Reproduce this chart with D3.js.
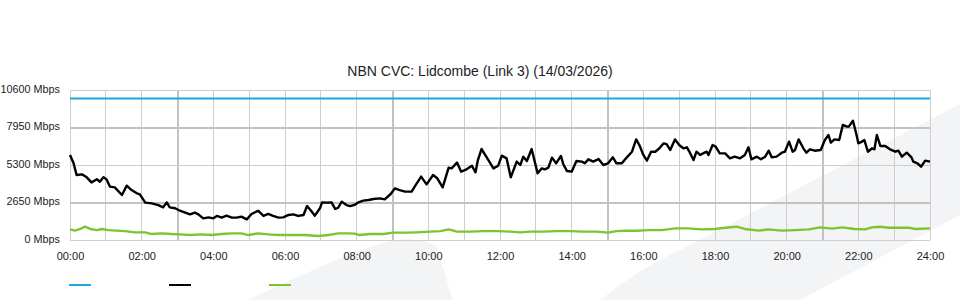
<!DOCTYPE html>
<html>
<head>
<meta charset="utf-8">
<script src="https://cdn.jsdelivr.net/npm/d3@7/dist/d3.min.js"></script>
<style>
  html, body { margin: 0; padding: 0; background: #ffffff; }
  svg { display: block; }
  text { font-family: "Liberation Sans", Arial, sans-serif; fill: #222; }
</style>
</head>
<body>
<svg id="chart" width="960" height="300"></svg>
<script>
// ---- data ----
const title = "NBN CVC: Lidcombe (Link 3) (14/03/2026)";
const yTicks = [0, 2650, 5300, 7950, 10600];
const yTickLabels = ["0 Mbps", "2650 Mbps", "5300 Mbps", "7950 Mbps", "10600 Mbps"];
const xTickMinutes = [0, 120, 240, 360, 480, 600, 720, 840, 960, 1080, 1200, 1320, 1440];
const xTickLabels = ["00:00","02:00","04:00","06:00","08:00","10:00","12:00","14:00","16:00","18:00","20:00","22:00","24:00"];

const capacityMinutes = [0, 1440];
const capacityMbps = [10000, 10000];

const usageMinutes = [0,6,11,20,28,36,45,50,56,61,67,75,87,95,103,112,117,126,137,148,156,162,167,176,184,193,201,209,215,223,232,240,246,254,262,271,279,287,296,304,315,324,332,340,349,357,366,374,382,391,397,405,410,419,422,430,438,444,449,455,463,469,477,483,491,500,508,519,527,537,544,552,561,572,579,588,597,608,615,624,634,639,648,655,662,673,679,683,689,697,709,717,723,731,738,748,754,759,765,773,783,790,795,801,807,814,822,826,832,840,848,857,862,868,876,885,893,901,909,915,924,932,941,948,954,960,966,973,980,987,994,999,1005,1013,1020,1027,1033,1038,1044,1049,1055,1060,1066,1069,1076,1081,1088,1097,1105,1113,1122,1130,1136,1141,1150,1157,1164,1170,1175,1183,1192,1197,1204,1210,1214,1220,1228,1233,1239,1247,1257,1264,1270,1274,1280,1288,1294,1301,1304,1311,1317,1320,1326,1330,1336,1343,1347,1351,1357,1365,1373,1382,1387,1393,1401,1409,1412,1419,1425,1432,1440];
const usageMbps = [6000,5420,4590,4640,4430,4070,4290,4120,4430,4290,3770,3720,3180,3840,3530,3300,3230,2640,2590,2470,2310,2660,2310,2240,2070,1930,1810,1930,1810,1530,1600,1530,1700,1580,1720,1580,1580,1650,1460,1840,2070,1700,1840,1700,1580,1600,1770,1810,1700,1770,2400,2000,1720,2280,2660,2640,2660,2190,2280,2710,2470,2400,2490,2660,2780,2830,2900,2940,2870,3250,3650,3530,3420,3420,3890,4480,3930,4590,4360,3720,5110,5060,5470,4830,4950,5250,4780,5650,6430,5890,5060,5250,5960,5770,4430,5540,5300,5890,5580,6430,4710,5060,4990,5110,5820,5420,5940,5350,4880,4830,5580,5540,5420,5700,5540,5720,5300,5420,5840,5420,5420,5820,6240,7110,6650,6010,5610,6240,6240,6480,6830,6780,6360,7110,6710,6480,6550,6170,5650,6240,6010,6120,6240,6010,6710,6600,6120,6120,5770,5890,5770,6010,6550,5700,5890,5700,5890,6310,5840,5890,6170,6240,6950,6240,6360,7110,6480,6170,6410,6310,6360,7070,7420,6880,7110,7070,8130,8010,8010,8430,7420,6830,6950,7070,6240,6480,6410,7420,6640,6640,6410,6240,6310,5890,6170,5840,5540,5420,5180,5610,5540];

const uploadMinutes = [0,8,17,25,34,45,53,64,78,92,109,126,137,154,170,184,201,220,237,254,271,287,299,315,332,349,371,393,416,433,449,466,477,485,502,525,541,564,580,603,620,634,648,670,693,715,737,754,770,793,815,837,859,882,901,915,932,949,968,991,1013,1035,1058,1080,1097,1116,1130,1153,1169,1192,1214,1237,1256,1276,1293,1314,1331,1343,1357,1371,1404,1416,1440];
const uploadMbps = [750,660,780,940,780,700,780,700,660,630,540,540,420,470,420,400,350,400,350,420,470,470,350,470,400,350,350,350,280,350,470,470,450,350,420,420,520,520,540,590,630,750,590,590,630,630,590,540,590,590,630,630,590,590,520,630,660,650,700,700,820,820,750,780,870,940,780,660,750,660,700,750,890,800,890,780,750,890,940,870,870,780,820];

// ---- chart ----
const svg = d3.select("#chart");
const x = d3.scaleLinear().domain([0, 1440]).range([70, 930]);
const y = d3.scaleLinear().domain([0, 10600]).range([240, 90]);

// background watermark
const wm = svg.append("g").attr("fill", "#f3f4f6");
wm.append("path").attr("d", "M248,300 C300,276 352,250 392,241 Q418,235 436,246 L453,300 Z");
wm.append("path").attr("d", "M600,300 Q640,268 680,250 L960,104 L960,215 L800,300 Z");

// grid
const grid = svg.append("g");
d3.range(0, 1441, 60).forEach(m => {
  const major = (m % 360 === 180);
  grid.append("line")
    .attr("x1", x(m)).attr("x2", x(m))
    .attr("y1", y(10600)).attr("y2", y(0))
    .attr("stroke", major ? "#c2c2c2" : "#cecece")
    .attr("stroke-width", major ? 2 : 1)
    .attr("shape-rendering", "crispEdges");
});
yTicks.forEach((v, i) => {
  const major = (i === 1 || i === 3);
  grid.append("line")
    .attr("x1", x(0)).attr("x2", x(1440))
    .attr("y1", y(v)).attr("y2", y(v))
    .attr("stroke", major ? "#c2c2c2" : "#cecece")
    .attr("stroke-width", major ? 2 : 1)
    .attr("shape-rendering", "crispEdges");
});

// y axis labels
const yAxis = d3.axisLeft(y).tickValues(yTicks).tickSize(0).tickPadding(10)
  .tickFormat((d, i) => yTickLabels[i]);
const gy = svg.append("g").attr("transform", `translate(${x(0)},0)`).call(yAxis);
gy.select(".domain").remove();
gy.selectAll("text").attr("font-size", 10.8).attr("fill", "#222")
  .attr("font-family", "'Liberation Sans', Arial, sans-serif").attr("dy", "0.2em");

// x axis labels
const xAxis = d3.axisBottom(x).tickValues(xTickMinutes).tickSize(0).tickPadding(12)
  .tickFormat((d, i) => xTickLabels[i]);
const gx = svg.append("g").attr("transform", `translate(0,${y(0)})`).call(xAxis);
gx.select(".domain").remove();
gx.selectAll("text").attr("font-size", 11).attr("fill", "#222")
  .attr("font-family", "'Liberation Sans', Arial, sans-serif");

// lines
const line = d3.line().x(d => x(d[0])).y(d => y(d[1]));
function series(ts, vs) { return ts.map((t, i) => [t, vs[i]]); }

svg.append("path").datum(series(capacityMinutes, capacityMbps))
  .attr("d", line).attr("fill", "none").attr("stroke", "#1fa5e0").attr("stroke-width", 2);
svg.append("path").datum(series(uploadMinutes, uploadMbps))
  .attr("d", line).attr("fill", "none").attr("stroke", "#7dc42e").attr("stroke-width", 2.4)
  .attr("stroke-linejoin", "round");
svg.append("path").datum(series(usageMinutes, usageMbps))
  .attr("d", line).attr("fill", "none").attr("stroke", "#000").attr("stroke-width", 2.4)
  .attr("stroke-linejoin", "round");

// title
svg.append("text").attr("x", 480).attr("y", 76).attr("text-anchor", "middle")
  .attr("font-size", 14).attr("fill", "#222").text(title);

// legend
const legendColors = ["#1fa5e0", "#000000", "#7dc42e"];
const lx = d3.scalePoint().domain([0, 1, 2]).range([69, 269]);
legendColors.forEach((c, i) => {
  svg.append("line").attr("x1", lx(i)).attr("x2", lx(i) + 22)
    .attr("y1", 285).attr("y2", 285).attr("stroke", c).attr("stroke-width", 2);
});
</script>
</body>
</html>
